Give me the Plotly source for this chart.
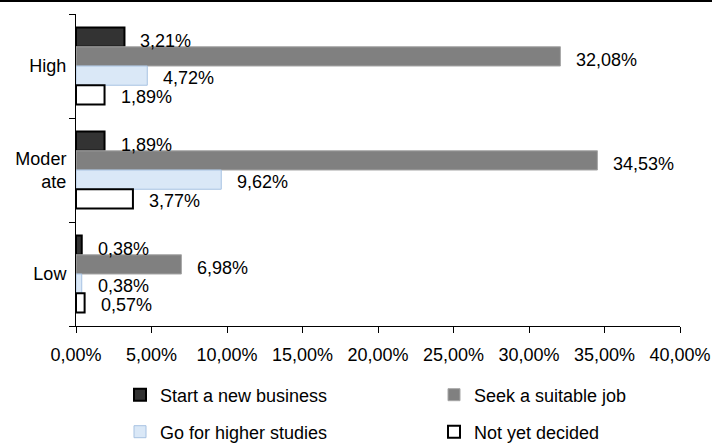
import plotly.graph_objects as go

categories = ["High", "Moderate", "Low"]
tick_labels = ["High", "Moder<br>ate", "Low"]
series_names = ["Start a new business", "Seek a suitable job", "Go for higher studies", "Not yet decided"]
start_business = [3.21, 1.89, 0.38]
seek_job = [32.08, 34.53, 6.98]
higher_studies = [4.72, 9.62, 0.38]
not_decided = [1.89, 3.77, 0.57]
x_ticks = [0, 5, 10, 15, 20, 25, 30, 35, 40]
x_tick_text = ["0,00%", "5,00%", "10,00%", "15,00%", "20,00%", "25,00%", "30,00%", "35,00%", "40,00%"]

FONT = "Arial, Liberation Sans, sans-serif"
FS = 18

styles = [
    dict(color="#333333", line=dict(color="#000000", width=2)),
    dict(color="#808080", line=dict(color="#a6a6a6", width=1)),
    dict(color="#dae8f7", line=dict(color="#a7c2e2", width=1)),
    dict(color="#ffffff", line=dict(color="#000000", width=2)),
]
values = [start_business, seek_job, higher_studies, not_decided]
legend_ids = ["legend", "legend2", "legend3", "legend4"]
label_yshift = [25, 6, -12, -31]


def fmt(v):
    return f"{v:.2f}".replace(".", ",") + "%"


fig = go.Figure()
for name, vals, st, lg in zip(series_names, values, styles, legend_ids):
    fig.add_trace(go.Bar(
        y=categories, x=vals, orientation="h", name=name,
        marker=st, legend=lg,
        textposition="none", hoverinfo="x+name",
    ))
for ti, vals in enumerate(values):
    for ci, v in enumerate(vals):
        fig.add_annotation(
            x=v, y=categories[ci], yref="y", xref="x",
            text=fmt(v),
            showarrow=False, xanchor="left", xshift=14,
            yshift=label_yshift[ti],
            font=dict(family=FONT, size=FS, color="#000000"),
        )

legend_common = dict(orientation="h", xanchor="left", yanchor="middle",
                     font=dict(family=FONT, size=FS, color="#000000"),
                     bgcolor="rgba(0,0,0,0)")
row1 = (326 - 395) / 312
row2 = (326 - 432) / 312
col1 = (120 - 76) / 604
col2 = (434 - 76) / 604

fig.update_layout(
    width=712, height=443,
    margin=dict(l=76, r=32, t=14, b=117, autoexpand=False),
    paper_bgcolor="white", plot_bgcolor="white",
    barmode="group", bargap=0.26, bargroupgap=0,
    font=dict(family=FONT, size=FS, color="#000000"),
    xaxis=dict(range=[0, 40], tickvals=x_ticks, ticktext=x_tick_text,
               showgrid=False, zeroline=False, showline=True, linecolor="#000000", linewidth=1,
               ticks="outside", ticklen=6, tickcolor="#000000", tickfont=dict(size=FS),
               ticklabelstandoff=6),
    yaxis=dict(categoryorder="array", categoryarray=categories, autorange="reversed",
               tickvals=categories, ticktext=tick_labels,
               showgrid=False, showline=True, linecolor="#000000", linewidth=1,
               ticks="outside", ticklen=6, tickcolor="#000000", tickson="boundaries",
               tickfont=dict(size=FS), ticklabelstandoff=5),
    legend=dict(x=col1, y=row1, **legend_common),
    legend2=dict(x=col2, y=row1, **legend_common),
    legend3=dict(x=col1, y=row2, **legend_common),
    legend4=dict(x=col2, y=row2, **legend_common),
    showlegend=True,
)
fig.add_shape(type="line", xref="paper", yref="paper",
              x0=-76 / 604, x1=636 / 604, y0=(326 - 1) / 312, y1=(326 - 1) / 312,
              line=dict(color="#000000", width=2))

fig.write_html("out.html",
               config={"displayModeBar": False},
               post_script="document.body.style.margin='0';document.body.style.padding='0';")
